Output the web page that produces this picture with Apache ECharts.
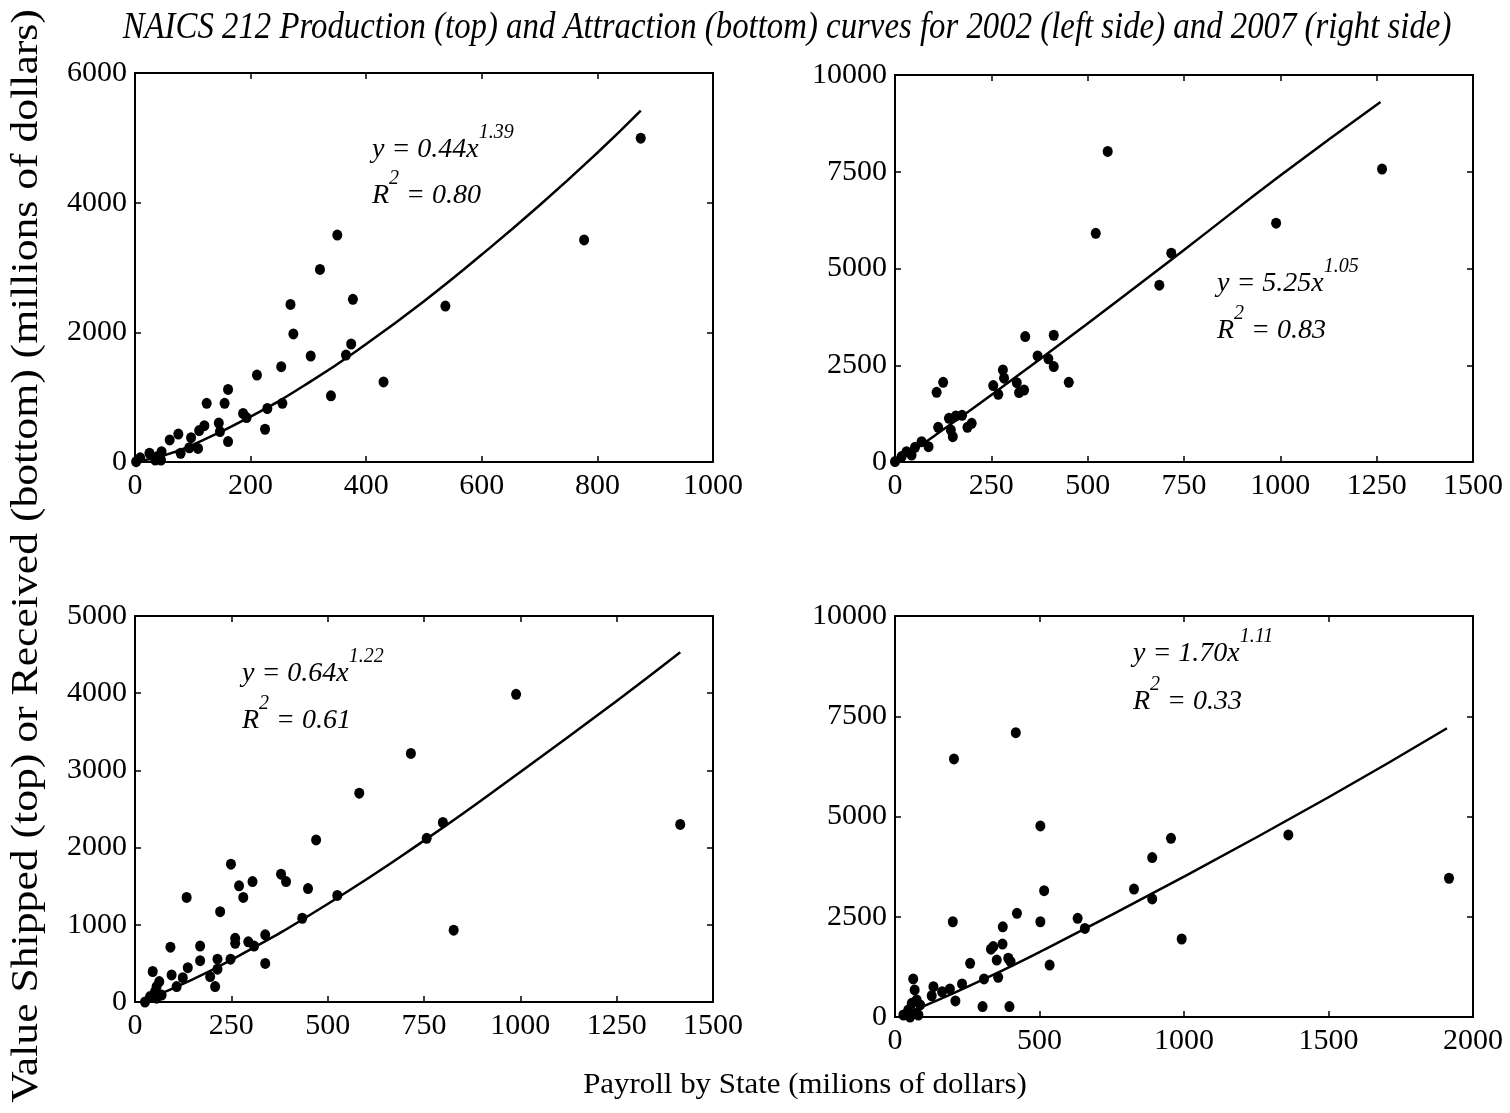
<!DOCTYPE html>
<html>
<head>
<meta charset="utf-8">
<title>NAICS 212 Production and Attraction curves</title>
<script src="https://cdn.jsdelivr.net/npm/echarts@6/dist/echarts.min.js"></script>
<style>
  html, body { margin: 0; padding: 0; background: #fff; }
  #chart { width: 1510px; height: 1113px; }
</style>
</head>
<body>
<div id="chart"></div>
<script>
// scatter points: [payroll, value]
const prod2002 = [
  [350, 3500], [320, 2970], [269, 2430], [377, 2510], [274, 1975], [374, 1820],
  [365, 1650], [304, 1635], [537, 2405], [253, 1470], [211, 1340], [430, 1235],
  [339, 1020], [161, 1120], [124, 905], [155, 905], [255, 905], [229, 825],
  [187, 750], [193, 685], [225, 505], [145, 600], [147, 470], [120, 560],
  [111, 485], [161, 315], [97, 375], [75, 430], [60, 340], [109, 210],
  [94, 220], [79, 135], [46, 160], [25, 135], [38, 80], [45, 30],
  [9, 65], [2, 5], [35, 30], [777, 3425], [875, 4995]
]
const prod2007 = [
  [552, 8025], [521, 5910], [717, 5395], [686, 4570], [338, 3240], [412, 3275],
  [370, 2740], [398, 2665], [412, 2465], [451, 2060], [280, 2380], [283, 2165],
  [255, 1975], [268, 1750], [316, 2050], [322, 1795], [335, 1860], [108, 1800],
  [125, 2060], [112, 895], [140, 1130], [158, 1190], [174, 1205], [145, 825],
  [150, 655], [188, 895], [199, 1000], [87, 395], [69, 525], [52, 380],
  [30, 265], [43, 180], [17, 140], [0, 10], [1264, 7570], [989, 6170]
]
const attr2002 = [
  [716, 3220], [582, 2705], [470, 2100], [249, 1785], [379, 1655], [392, 1560],
  [305, 1560], [270, 1505], [449, 1470], [281, 1355], [134, 1355], [525, 1380],
  [221, 1170], [434, 1085], [827, 930], [338, 870], [260, 825], [260, 760],
  [294, 780], [309, 725], [169, 725], [92, 710], [214, 555], [248, 555],
  [169, 535], [338, 500], [137, 445], [214, 425], [195, 330], [95, 350],
  [124, 315], [108, 200], [208, 200], [46, 395], [63, 265], [56, 200],
  [52, 135], [69, 90], [39, 70], [26, 0], [56, 50], [757, 2120],
  [799, 2325], [989, 3985], [1415, 2300]
]
const attr2007 = [
  [418, 7090], [204, 6435], [503, 4765], [955, 4455], [890, 3975], [827, 3190],
  [890, 2945], [516, 3150], [422, 2585], [503, 2375], [200, 2375], [632, 2460],
  [657, 2210], [373, 2250], [372, 1820], [332, 1690], [340, 1755], [352, 1420],
  [392, 1465], [400, 1380], [535, 1295], [260, 1340], [357, 990], [308, 950],
  [232, 825], [190, 700], [163, 630], [133, 755], [127, 530], [209, 400],
  [303, 260], [396, 260], [63, 950], [68, 675], [75, 425], [58, 340],
  [46, 175], [69, 90], [29, 50], [87, 300], [52, 0], [81, 50],
  [992, 1945], [1361, 4540], [1917, 3460]
]

// fitted power curves
const prodFit2002 = [[0, 0], [50, 100], [100, 265], [200, 700], [300, 1220], [400, 1820], [500, 2480], [600, 3200], [700, 3960], [800, 4770], [875, 5420]]
const prodFit2007 = [[0, 0], [50, 320], [100, 660], [250, 1730], [500, 3580], [750, 5480], [1000, 7400], [1260, 9300]]
const attrFit2002 = [[20, 25], [50, 80], [100, 180], [250, 545], [500, 1270], [750, 2090], [1000, 2980], [1250, 3900], [1415, 4530]]
const attrFit2007 = [[15, 20], [50, 125], [100, 270], [250, 750], [500, 1620], [1000, 3500], [1500, 5480], [1910, 7200]]

// axis ranges: [xMax, xStep, yMax, yStep]
const axisRanges = [
  [1000, 200, 6000, 2000],
  [1500, 250, 10000, 2500],
  [1500, 250, 5000, 1000],
  [2000, 500, 10000, 2500]
]

// [coefficient, exponent, R squared]
const equations = [
  ['0.44', '1.39', '0.80'],
  ['5.25', '1.05', '0.83'],
  ['0.64', '1.22', '0.61'],
  ['1.70', '1.11', '0.33']
]

const titleText = 'NAICS 212 Production (top) and Attraction (bottom) curves for 2002 (left side) and 2007 (right side)'
const yTitle = 'Value Shipped (top) or Received (bottom) (millions of dollars)'
const xTitle = 'Payroll by State (milions of dollars)'

const SERIF = '"Liberation Serif", "Times New Roman", serif'

const grids = [
  { left: 135, top: 73, width: 578, height: 389 },
  { left: 895, top: 75, width: 578, height: 387 },
  { left: 135, top: 616, width: 578, height: 386 },
  { left: 895, top: 616, width: 578, height: 401 }
]
// left x, top of first line, top of second line
const eqPos = [[372, 129, 175], [1217, 263, 310], [242, 653, 700], [1133, 633, 681]]

const xAxes = []
const yAxes = []
axisRanges.forEach((r, i) => {
  const line = { show: true, onZero: false, lineStyle: { color: '#000', width: 2 } }
  const tick = { show: true, inside: true, length: 6, lineStyle: { color: '#000', width: 1.5 } }
  const label = {
    color: '#000', fontFamily: SERIF, fontSize: 30,
    showMinLabel: true, showMaxLabel: true,
    formatter: (v) => String(v)
  }
  xAxes.push({
    type: 'value', gridIndex: i, min: 0, max: r[0], interval: r[1], position: 'bottom',
    axisLine: line, axisTick: tick, splitLine: { show: false },
    axisLabel: Object.assign({ margin: 9 }, label)
  })
  xAxes.push({
    type: 'value', gridIndex: i, min: 0, max: r[0], interval: r[1], position: 'top',
    axisLine: line, axisTick: tick, splitLine: { show: false }, axisLabel: { show: false }
  })
  yAxes.push({
    type: 'value', gridIndex: i, min: 0, max: r[2], interval: r[3], position: 'left',
    axisLine: line, axisTick: tick, splitLine: { show: false },
    axisLabel: Object.assign({ margin: 8 }, label)
  })
  yAxes.push({
    type: 'value', gridIndex: i, min: 0, max: r[2], interval: r[3], position: 'right',
    axisLine: line, axisTick: tick, splitLine: { show: false }, axisLabel: { show: false }
  })
})

const points = [prod2002, prod2007, attr2002, attr2007]
const fits = [prodFit2002, prodFit2007, attrFit2002, attrFit2007]
const series = []
points.forEach((pts, i) => {
  series.push({
    type: 'scatter', xAxisIndex: i * 2, yAxisIndex: i * 2, data: pts,
    symbol: 'circle', symbolSize: [10, 11], silent: true,
    itemStyle: { color: '#000', opacity: 1 }
  })
  series.push({
    type: 'line', xAxisIndex: i * 2, yAxisIndex: i * 2, data: fits[i],
    smooth: true, showSymbol: false, silent: true,
    lineStyle: { color: '#000', width: 2.5 }
  })
})

const eqRich = {
  m: { fontFamily: SERIF, fontStyle: 'italic', fontSize: 28, lineHeight: 30, padding: [14, 0, 2, 0], color: '#000' },
  s: { fontFamily: SERIF, fontStyle: 'italic', fontSize: 20, lineHeight: 20, padding: [2, 0, 24, 0], color: '#000' }
}

const graphics = [
  {
    type: 'text', x: 787, y: 28, scaleX: 0.887,
    style: { text: titleText, font: 'italic 37px ' + SERIF, fill: '#000', textAlign: 'center', textVerticalAlign: 'middle' }
  },
  {
    type: 'text', x: 27, y: 556, rotation: Math.PI / 2, scaleX: 1.18,
    style: { text: yTitle, font: '37px ' + SERIF, fill: '#000', textAlign: 'center', textVerticalAlign: 'middle' }
  },
  {
    type: 'text', x: 805, y: 1085, scaleX: 1.03,
    style: { text: xTitle, font: '30px ' + SERIF, fill: '#000', textAlign: 'center', textVerticalAlign: 'middle' }
  }
]
equations.forEach((e, i) => {
  const p = eqPos[i]
  graphics.push({
    type: 'text', x: p[0], y: p[1],
    style: { text: '{m|y = ' + e[0] + 'x}{s|' + e[1] + '}', rich: eqRich, textAlign: 'left', textVerticalAlign: 'top' }
  })
  graphics.push({
    type: 'text', x: p[0], y: p[2],
    style: { text: '{m|R}{s|2}{m| = ' + e[2] + '}', rich: eqRich, textAlign: 'left', textVerticalAlign: 'top' }
  })
})

const chartOptions = {
  backgroundColor: '#fff',
  animation: false,
  grid: grids,
  xAxis: xAxes,
  yAxis: yAxes,
  series: series,
  graphic: graphics
}

const chartInstance = echarts.init(document.getElementById('chart'))
chartInstance.setOption(chartOptions)
</script>
</body>
</html>
